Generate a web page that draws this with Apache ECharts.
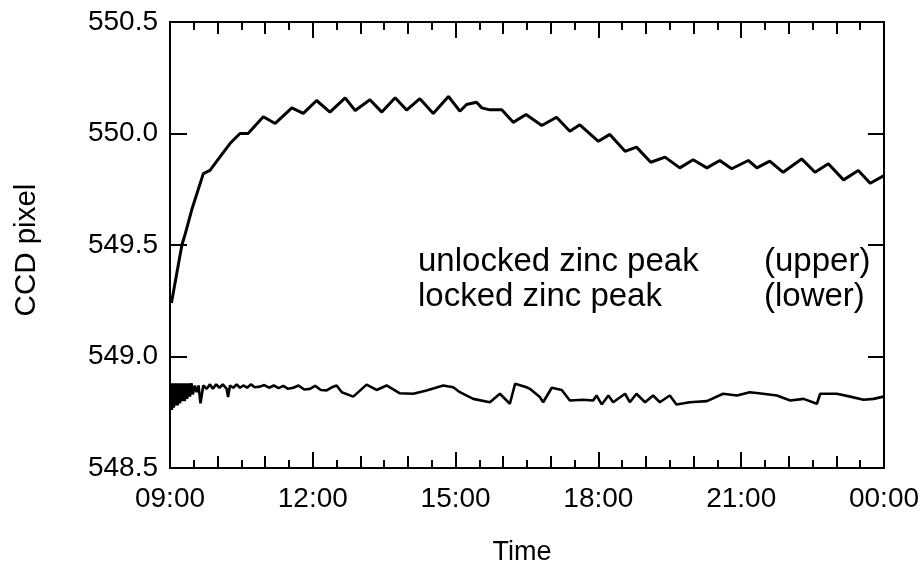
<!DOCTYPE html>
<html>
<head>
<meta charset="utf-8">
<script src="https://cdn.jsdelivr.net/npm/echarts@6/dist/echarts.min.js"></script>
<style>
html,body{margin:0;padding:0;background:#fff;}
#chart{width:920px;height:566px;}
</style>
</head>
<body>
<div id="chart"></div>
<script>
// Time in decimal hours after midnight (24 = 00:00 next day)
const upperTime = [9.03,9.25,9.32,9.46,9.70,9.84,10.05,10.26,10.47,10.64,10.96,11.21,11.56,11.80,12.08,12.36,12.68,12.89,13.20,13.45,13.73,13.97,14.25,14.53,14.85,15.09,15.23,15.44,15.55,15.72,15.97,16.21,16.48,16.81,17.12,17.40,17.61,18.00,18.24,18.56,18.80,19.10,19.40,19.71,19.99,20.28,20.55,20.80,21.15,21.33,21.60,21.88,22.27,22.55,22.83,23.15,23.46,23.71,23.99];
const upperValue = [549.24,549.50,549.55,549.66,549.82,549.835,549.895,549.955,550.00,550.00,550.075,550.045,550.115,550.09,550.148,550.096,550.16,550.103,550.151,550.096,550.16,550.105,550.156,550.09,550.166,550.10,550.13,550.14,550.115,550.106,550.106,550.05,550.085,550.036,550.073,550.01,550.039,549.965,549.996,549.92,549.939,549.871,549.894,549.846,549.882,549.846,549.879,549.842,549.879,549.846,549.876,549.826,549.886,549.826,549.864,549.792,549.834,549.777,549.81];

const lowerTime = [9.02,9.04,9.06,9.08,9.10,9.12,9.14,9.16,9.18,9.21,9.23,9.26,9.28,9.31,9.33,9.36,9.39,9.42,9.45,9.48,9.52,9.56,9.60,9.64,9.70,9.77,9.84,9.90,9.97,10.04,10.11,10.19,10.22,10.26,10.33,10.40,10.47,10.54,10.62,10.70,10.78,10.89,10.98,11.08,11.18,11.28,11.38,11.48,11.59,11.70,11.82,11.94,12.05,12.17,12.29,12.40,12.50,12.61,12.85,13.13,13.34,13.55,13.83,14.11,14.39,14.74,14.95,15.09,15.37,15.72,15.93,16.14,16.25,16.49,16.56,16.77,16.84,17.02,17.23,17.40,17.68,17.89,17.96,18.07,18.21,18.31,18.56,18.66,18.80,18.98,19.15,19.29,19.50,19.64,19.92,20.28,20.62,20.91,21.18,21.46,21.75,22.03,22.31,22.59,22.66,23.01,23.29,23.57,23.78,23.99];
const lowerValue = [548.88,548.76,548.88,548.77,548.88,548.78,548.88,548.78,548.88,548.79,548.88,548.80,548.88,548.80,548.88,548.81,548.88,548.82,548.88,548.83,548.87,548.84,548.87,548.79,548.87,548.855,548.875,548.855,548.875,548.86,548.875,548.855,548.818,548.87,548.86,548.875,548.86,548.87,548.86,548.875,548.862,548.865,548.872,548.86,548.87,548.858,548.868,548.855,548.86,548.87,548.852,548.855,548.868,548.85,548.848,548.862,548.87,548.84,548.82,548.874,548.85,548.87,548.835,548.833,548.848,548.87,548.862,548.84,548.81,548.795,548.833,548.788,548.878,548.862,548.855,548.818,548.795,548.86,548.85,548.803,548.806,548.803,548.825,548.785,548.825,548.795,548.833,548.795,548.833,548.795,548.825,548.795,548.825,548.785,548.795,548.80,548.833,548.825,548.84,548.833,548.825,548.803,548.81,548.788,548.833,548.833,548.82,548.806,548.81,548.82];

const xTickLabels = ['09:00','12:00','15:00','18:00','21:00','00:00'];
const yTickLabels = ['548.5','549.0','549.5','550.0','550.5'];
const legendLines = [['unlocked zinc peak','(upper)'],['locked zinc peak','(lower)']];

const FONT = '"Liberation Sans", Arial, Helvetica, sans-serif';
const X_MIN = 9, X_MAX = 24, Y_MIN = 548.5, Y_MAX = 550.5;
const GRID = {left:170, right:36, top:22, bottom:98, containLabel:false, outerBoundsMode:'none'};

function pairs(t, v){ return t.map((x,i)=>[x, v[i]]); }

// Axes carrying only labels (grid 0, with the data)
const xLabelAxis = {
  type:'value', gridIndex:0, position:'bottom', min:X_MIN, max:X_MAX, interval:3,
  axisLine:{show:true, onZero:false, lineStyle:{color:'#000', width:2}},
  axisTick:{show:false}, splitLine:{show:false},
  axisLabel:{show:true, margin:21, color:'#000', fontSize:28, lineHeight:20, fontFamily:FONT,
    formatter:(v)=>xTickLabels[Math.round((v-X_MIN)/3)]}
};
const yLabelAxis = {
  type:'value', gridIndex:0, position:'left', min:Y_MIN, max:Y_MAX, interval:0.5,
  axisLine:{show:true, onZero:false, lineStyle:{color:'#000', width:2}},
  axisTick:{show:false}, splitLine:{show:false},
  axisLabel:{show:true, margin:12, color:'#000', fontSize:28, lineHeight:20, fontFamily:FONT,
    formatter:(v)=>yTickLabels[Math.round((v-Y_MIN)/0.5)]}
};

// Axes carrying only ticks and frame lines (grid 1, same rectangle)
function xTickAxis(position, interval, tickLen, withMinor){
  const a = {
    type:'value', gridIndex:1, position, min:X_MIN, max:X_MAX, interval,
    axisLine:{show:true, onZero:false, lineStyle:{color:'#000', width:2}},
    axisTick:{show:true, inside:true, length:tickLen, lineStyle:{color:'#000', width:2}},
    splitLine:{show:false}, axisLabel:{show:false}
  };
  if (withMinor) a.minorTick = {show:true, splitNumber:6, length:8, lineStyle:{color:'#000', width:2}};
  return a;
}
function yTickAxis(position, tickLen){
  return {
    type:'value', gridIndex:1, position, min:Y_MIN, max:Y_MAX, interval:0.5,
    axisLine:{show:true, onZero:false, lineStyle:{color:'#000', width:2}},
    axisTick:{show:true, inside:true, length:tickLen, lineStyle:{color:'#000', width:2}},
    splitLine:{show:false}, axisLabel:{show:false}
  };
}

const graphics = [
  {type:'text', x:522, y:553, style:{text:'Time', font:'27px '+FONT, fill:'#000', textAlign:'center', textVerticalAlign:'middle'}},
  {type:'text', x:27, y:250, rotation:Math.PI/2, style:{text:'CCD pixel', font:'29.5px '+FONT, fill:'#000', textAlign:'center', textVerticalAlign:'middle'}}
];
legendLines.forEach((ln,i)=>{
  graphics.push({type:'text', x:418, y:262+i*35, style:{text:ln[0], font:'33px '+FONT, fill:'#000', textAlign:'left', textVerticalAlign:'middle'}});
  graphics.push({type:'text', x:764, y:262+i*35, style:{text:ln[1], font:'33px '+FONT, fill:'#000', textAlign:'left', textVerticalAlign:'middle'}});
});

const chart = echarts.init(document.getElementById('chart'));
chart.setOption({
  animation:false,
  grid:[Object.assign({}, GRID), Object.assign({}, GRID)],
  xAxis:[
    xLabelAxis,
    xTickAxis('bottom',3,16,true),
    xTickAxis('bottom',1,12,false),
    xTickAxis('top',3,16,true),
    xTickAxis('top',1,12,false)
  ],
  yAxis:[
    yLabelAxis,
    yTickAxis('left',17),
    yTickAxis('right',16)
  ],
  graphic:graphics,
  series:[
    {type:'line', xAxisIndex:0, yAxisIndex:0, data:pairs(upperTime, upperValue), showSymbol:false, symbol:'none',
      lineStyle:{color:'#000', width:3}},
    {type:'line', xAxisIndex:0, yAxisIndex:0, data:pairs(lowerTime, lowerValue), showSymbol:false, symbol:'none',
      lineStyle:{color:'#000', width:2.6}}
  ]
});
</script>
</body>
</html>
